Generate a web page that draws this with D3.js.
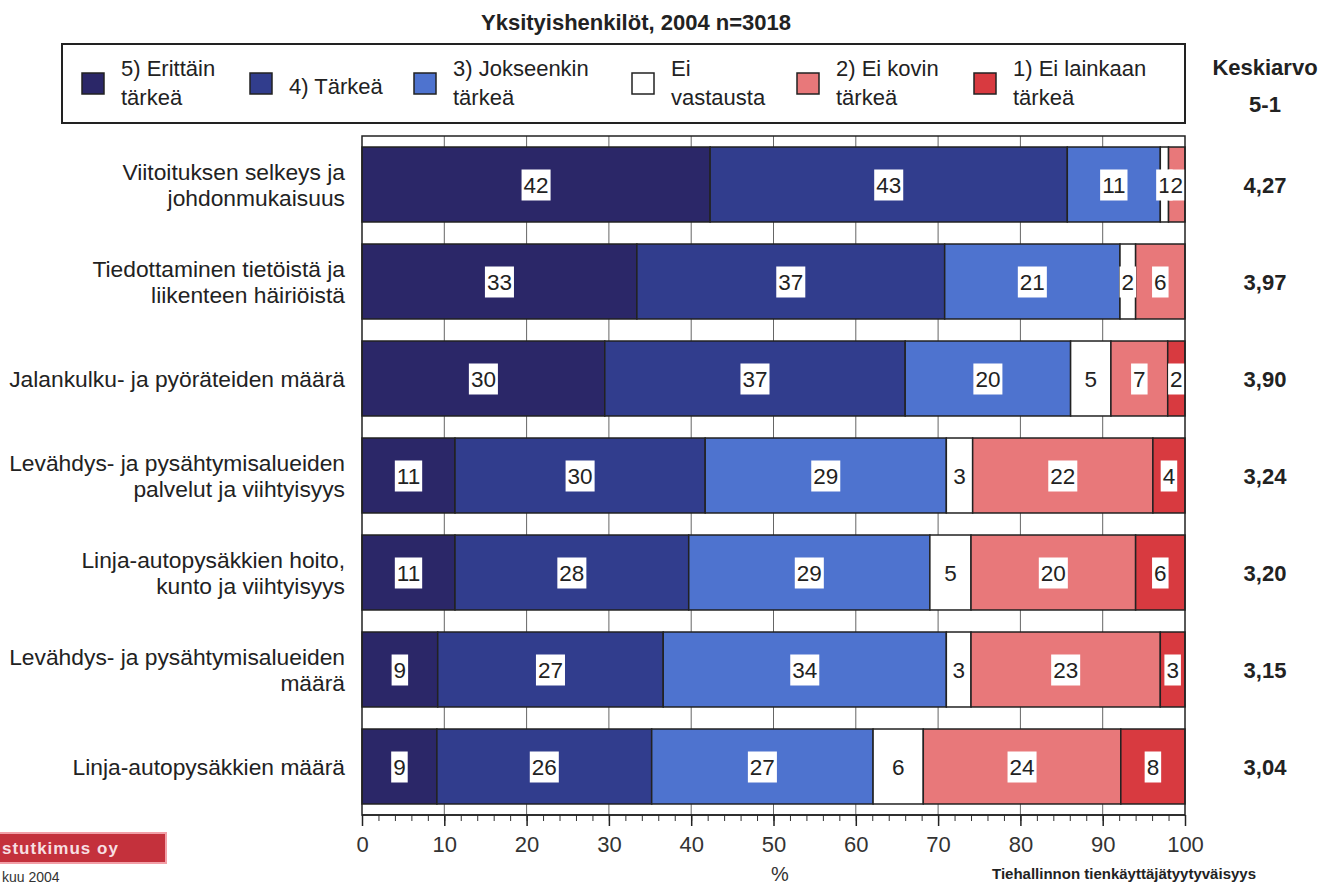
<!DOCTYPE html>
<html>
<head>
<meta charset="utf-8">
<script src="https://cdn.jsdelivr.net/npm/d3@7"></script>
<style>
  html, body { margin: 0; padding: 0; background: #fff; }
  svg { display: block; font-family: "Liberation Sans", Arial, sans-serif; }
</style>
</head>
<body>
<svg id="chart" width="1322" height="885"></svg>
<script>
// ---- data ----
const title = "Yksityishenkilöt, 2004 n=3018";
const categories = [
  ["Viitoituksen selkeys ja", "johdonmukaisuus"],
  ["Tiedottaminen tietöistä ja", "liikenteen häiriöistä"],
  ["Jalankulku- ja pyöräteiden määrä"],
  ["Levähdys- ja pysähtymisalueiden", "palvelut ja viihtyisyys"],
  ["Linja-autopysäkkien hoito,", "kunto ja viihtyisyys"],
  ["Levähdys- ja pysähtymisalueiden", "määrä"],
  ["Linja-autopysäkkien määrä"]
];
const seriesNames = [
  ["5) Erittäin", "tärkeä"],
  ["4) Tärkeä"],
  ["3) Jokseenkin", "tärkeä"],
  ["Ei", "vastausta"],
  ["2) Ei kovin", "tärkeä"],
  ["1) Ei lainkaan", "tärkeä"]
];
const s5  = [42.3, 33.4, 29.5, 11.3, 11.3,  9.2,  9.1];
const s4  = [43.4, 37.4, 36.5, 30.4, 28.4, 27.4, 26.1];
const s3  = [11.3, 21.3, 20.1, 29.3, 29.3, 34.4, 26.9];
const sEi = [ 1.0,  1.9,  4.9,  3.2,  5.0,  3.0,  6.1];
const s2  = [ 2.0,  6.0,  6.9, 21.9, 20.0, 23.0, 24.0];
const s1  = [ 0.0,  0.0,  2.1,  3.9,  6.0,  3.0,  7.8];
const means = ["4,27", "3,97", "3,90", "3,24", "3,20", "3,15", "3,04"];
const meanHeader = ["Keskiarvo", "5-1"];
const xTicks = [0, 10, 20, 30, 40, 50, 60, 70, 80, 90, 100];
const xLabel = "%";
const footerLogo = "stutkimus oy";
const footerDate = "kuu 2004";
const footerSource = "Tiehallinnon tienkäyttäjätyytyväisyys";
const colors = ["#2b2768", "#313d8d", "#4e73cf", "#ffffff", "#e8787a", "#d83a40"];

const series = [s5, s4, s3, sEi, s2, s1];

(function () {
// ---- layout ----
const svg = d3.select("#chart");
const textColor = "#222";
const pLeft = 362, pRight = 1185, pTop = 136, pBottom = 815;

const x = d3.scaleLinear().domain([0, 100]).range([pLeft, pRight]);
const y = d3.scaleBand().domain(d3.range(categories.length))
  .range([pTop, pBottom]).paddingInner(0.227).paddingOuter(0.1135);

// title
svg.append("text").attr("x", 636).attr("y", 30)
  .attr("text-anchor", "middle").attr("font-size", 22).attr("font-weight", "bold")
  .attr("fill", textColor).text(title);

// legend
const lg = svg.append("g");
lg.append("rect").attr("x", 62).attr("y", 44).attr("width", 1123).attr("height", 79)
  .attr("fill", "#fff").attr("stroke", "#222").attr("stroke-width", 2);
const swatchX = [82, 250, 414, 632, 797, 974];
seriesNames.forEach((lines, i) => {
  lg.append("rect").attr("x", swatchX[i]).attr("y", 73).attr("width", 22).attr("height", 21)
    .attr("fill", colors[i]).attr("stroke", "#222").attr("stroke-width", 1.5);
  const t = lg.append("text").attr("x", swatchX[i] + 39).attr("font-size", 22).attr("fill", textColor);
  if (lines.length === 1) {
    t.attr("y", 94).text(lines[0]);
  } else {
    t.append("tspan").attr("x", swatchX[i] + 39).attr("y", 76).text(lines[0]);
    t.append("tspan").attr("x", swatchX[i] + 39).attr("y", 105).text(lines[1]);
  }
});

// mean header
svg.append("text").attr("x", 1265).attr("y", 75).attr("text-anchor", "middle")
  .attr("font-size", 22).attr("font-weight", "bold").attr("fill", textColor).text(meanHeader[0]);
svg.append("text").attr("x", 1265).attr("y", 112).attr("text-anchor", "middle")
  .attr("font-size", 22).attr("font-weight", "bold").attr("fill", textColor).text(meanHeader[1]);

// plot background + grid
svg.append("rect").attr("x", pLeft).attr("y", pTop).attr("width", pRight - pLeft).attr("height", pBottom - pTop)
  .attr("fill", "#fff");
svg.append("g").selectAll("line").data(xTicks.slice(1, -1)).join("line")
  .attr("x1", d => x(d)).attr("x2", d => x(d)).attr("y1", pTop).attr("y2", pBottom)
  .attr("stroke", "#666").attr("stroke-width", 1);

// stacked data
const stacked = categories.map((c, i) => {
  let acc = 0;
  return series.map((s, k) => {
    const v = s[i];
    const seg = { row: i, k, v, x0: acc, x1: acc + v };
    acc += v;
    return seg;
  });
});

const bars = svg.append("g");
stacked.forEach(row => {
  bars.selectAll(null).data(row.filter(d => d.v > 0)).join("rect")
    .attr("x", d => x(d.x0)).attr("width", d => x(d.x1) - x(d.x0))
    .attr("y", d => y(d.row)).attr("height", y.bandwidth())
    .attr("fill", d => colors[d.k]).attr("stroke", "#222").attr("stroke-width", 1.5);
});

// value labels with white boxes
const labels = svg.append("g");
stacked.forEach(row => {
  row.filter(d => Math.round(d.v) >= 1).forEach(d => {
    const cx = x((d.x0 + d.x1) / 2);
    const cy = y(d.row) + y.bandwidth() / 2;
    const g = labels.append("g");
    const t = g.append("text").attr("x", cx).attr("y", cy + 8)
      .attr("text-anchor", "middle").attr("font-size", 22.5).attr("fill", textColor)
      .text(Math.round(d.v));
    const w = t.node().getComputedTextLength();
    g.insert("rect", "text").attr("x", cx - w / 2 - 2).attr("y", cy - 15)
      .attr("width", w + 4).attr("height", 31).attr("fill", "#fff");
  });
});

// plot frame
svg.append("rect").attr("x", pLeft).attr("y", pTop).attr("width", pRight - pLeft).attr("height", pBottom - pTop)
  .attr("fill", "none").attr("stroke", "#222").attr("stroke-width", 1.5);

// category labels
categories.forEach((lines, i) => {
  const cy = y(i) + y.bandwidth() / 2;
  const t = svg.append("text").attr("text-anchor", "end").attr("font-size", 22.8).attr("fill", textColor);
  if (lines.length === 1) {
    t.append("tspan").attr("x", 345).attr("y", cy + 8).text(lines[0]);
  } else {
    t.append("tspan").attr("x", 345).attr("y", cy - 5).text(lines[0]);
    t.append("tspan").attr("x", 345).attr("y", cy + 21).text(lines[1]);
  }
});

// means
svg.append("g").selectAll("text").data(means).join("text")
  .attr("x", 1265).attr("y", (d, i) => y(i) + y.bandwidth() / 2 + 8)
  .attr("text-anchor", "middle").attr("font-size", 22).attr("font-weight", "bold")
  .attr("fill", textColor).text(d => d);

// x axis
const axisG = svg.append("g").attr("transform", `translate(0,${pBottom})`);
axisG.call(d3.axisBottom(x).tickValues(d3.range(0, 101, 2)).tickSize(6).tickFormat(""));
axisG.select(".domain").remove();
axisG.selectAll(".tick line").attr("stroke", "#333").attr("stroke-width", 1);
const majorG = svg.append("g").attr("transform", `translate(0,${pBottom})`);
majorG.call(d3.axisBottom(x).tickValues(xTicks).tickSize(11).tickPadding(10));
majorG.select(".domain").remove();
majorG.selectAll(".tick line").attr("stroke", "#222").attr("stroke-width", 1.5);
majorG.selectAll(".tick text").attr("font-size", 22).attr("fill", "#333")
  .attr("font-family", "Liberation Sans, Arial, sans-serif");
svg.append("line").attr("x1", pLeft).attr("x2", pRight).attr("y1", pBottom).attr("y2", pBottom)
  .attr("stroke", "#222").attr("stroke-width", 1.5);

svg.append("text").attr("x", 780).attr("y", 881).attr("text-anchor", "middle")
  .attr("font-size", 20).attr("fill", "#333").text(xLabel);

// footer: logo and notes
svg.append("rect").attr("x", -2).attr("y", 833).attr("width", 168).attr("height", 30)
  .attr("fill", "#c4313c").attr("stroke", "#f2a0a8").attr("stroke-width", 2);
svg.append("text").attr("x", 2).attr("y", 854).attr("font-size", 17).attr("font-weight", "bold")
  .attr("fill", "#f7dfe2").attr("letter-spacing", 1).text(footerLogo);
svg.append("text").attr("x", 2).attr("y", 882).attr("font-size", 14)
  .attr("fill", "#333").text(footerDate);
svg.append("text").attr("x", 992).attr("y", 879).attr("font-size", 15).attr("font-weight", "bold")
  .attr("fill", "#222").text(footerSource);
})();
</script>
</body>
</html>
